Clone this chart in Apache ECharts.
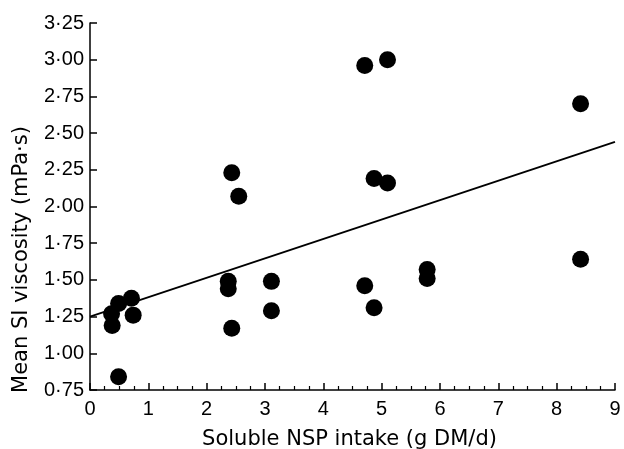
<!DOCTYPE html>
<html>
<head>
<meta charset="utf-8">
<script src="https://cdn.jsdelivr.net/npm/echarts@6/dist/echarts.min.js"></script>
<style>html,body{margin:0;padding:0;background:#fff}#c{width:624px;height:449px}</style>
</head>
<body>
<div id="c"></div>
<script>
// Soluble NSP intake (g DM/d)
const xValues = [0.37, 0.38, 0.49, 0.49, 0.71, 0.74,
                 2.37, 2.37, 2.43, 2.43, 2.55, 3.11, 3.11,
                 4.71, 4.71, 4.87, 4.87, 5.10, 5.10, 5.78, 5.78,
                 8.41, 8.41];
// Mean SI viscosity (mPa·s)
const yValues = [1.27, 1.19, 1.34, 0.84, 1.375, 1.26,
                 1.49, 1.44, 2.23, 1.17, 2.07, 1.49, 1.29,
                 2.96, 1.46, 2.19, 1.31, 3.00, 2.16, 1.57, 1.51,
                 2.70, 1.64];
// Regression line end points
const fitLine = [[0, 1.25], [9, 2.44]];
const xTicks = [0, 1, 2, 3, 4, 5, 6, 7, 8, 9];
const yTicks = [0.75, 1.00, 1.25, 1.50, 1.75, 2.00, 2.25, 2.50, 2.75, 3.00, 3.25];

const points = xValues.map((x, i) => [x, yValues[i]]);
const tickFont = 'Liberation Sans, Arial, sans-serif';
const nameFont = 'DejaVu Sans, sans-serif';
const chart = echarts.init(document.getElementById('c'));
chart.setOption({
  animation: false,
  backgroundColor: '#fff',
  grid: { left: 90, right: 9, top: 23, bottom: 59, containLabel: false, outerBoundsMode: 'none' },
  xAxis: {
    type: 'value', min: xTicks[0], max: xTicks[xTicks.length - 1], interval: 1,
    name: 'Soluble NSP intake (g DM/d)', nameLocation: 'middle', nameGap: 39,
    nameTextStyle: { fontFamily: nameFont, fontSize: 21, color: '#000', padding: [0, 6, 0, 0] },
    axisLine: { show: true, lineStyle: { color: '#000', width: 1.5 } },
    axisTick: { show: true, inside: true, length: 7, lineStyle: { color: '#000', width: 1.5 } },
    minorTick: { show: true, splitNumber: 4, length: 4, lineStyle: { color: '#000', width: 1.2 } },
    axisLabel: { fontFamily: tickFont, fontSize: 20, color: '#000', margin: 9 },
    splitLine: { show: false }
  },
  yAxis: {
    type: 'value', min: yTicks[0], max: yTicks[yTicks.length - 1], interval: 0.25,
    name: 'Mean SI viscosity (mPa·s)', nameLocation: 'middle', nameGap: 58,
    nameTextStyle: { fontFamily: nameFont, fontSize: 21, color: '#000', padding: [0, 106, 0, 0] },
    axisLine: { show: true, lineStyle: { color: '#000', width: 1.5 } },
    axisTick: { show: true, inside: true, length: 7, lineStyle: { color: '#000', width: 1.5 } },
    axisLabel: { fontFamily: tickFont, fontSize: 20, color: '#000', margin: 6, padding: [6, 0, 0, 0],
      formatter: v => v.toFixed(2).replace('.', '·') },
    splitLine: { show: false }
  },
  series: [
    { type: 'line', data: fitLine, symbol: 'none', lineStyle: { color: '#000', width: 1.8 }, z: 1 },
    { type: 'scatter', data: points, symbol: 'circle', symbolSize: 17,
      itemStyle: { color: '#000', opacity: 1 }, z: 2 }
  ]
});
</script>
</body>
</html>
